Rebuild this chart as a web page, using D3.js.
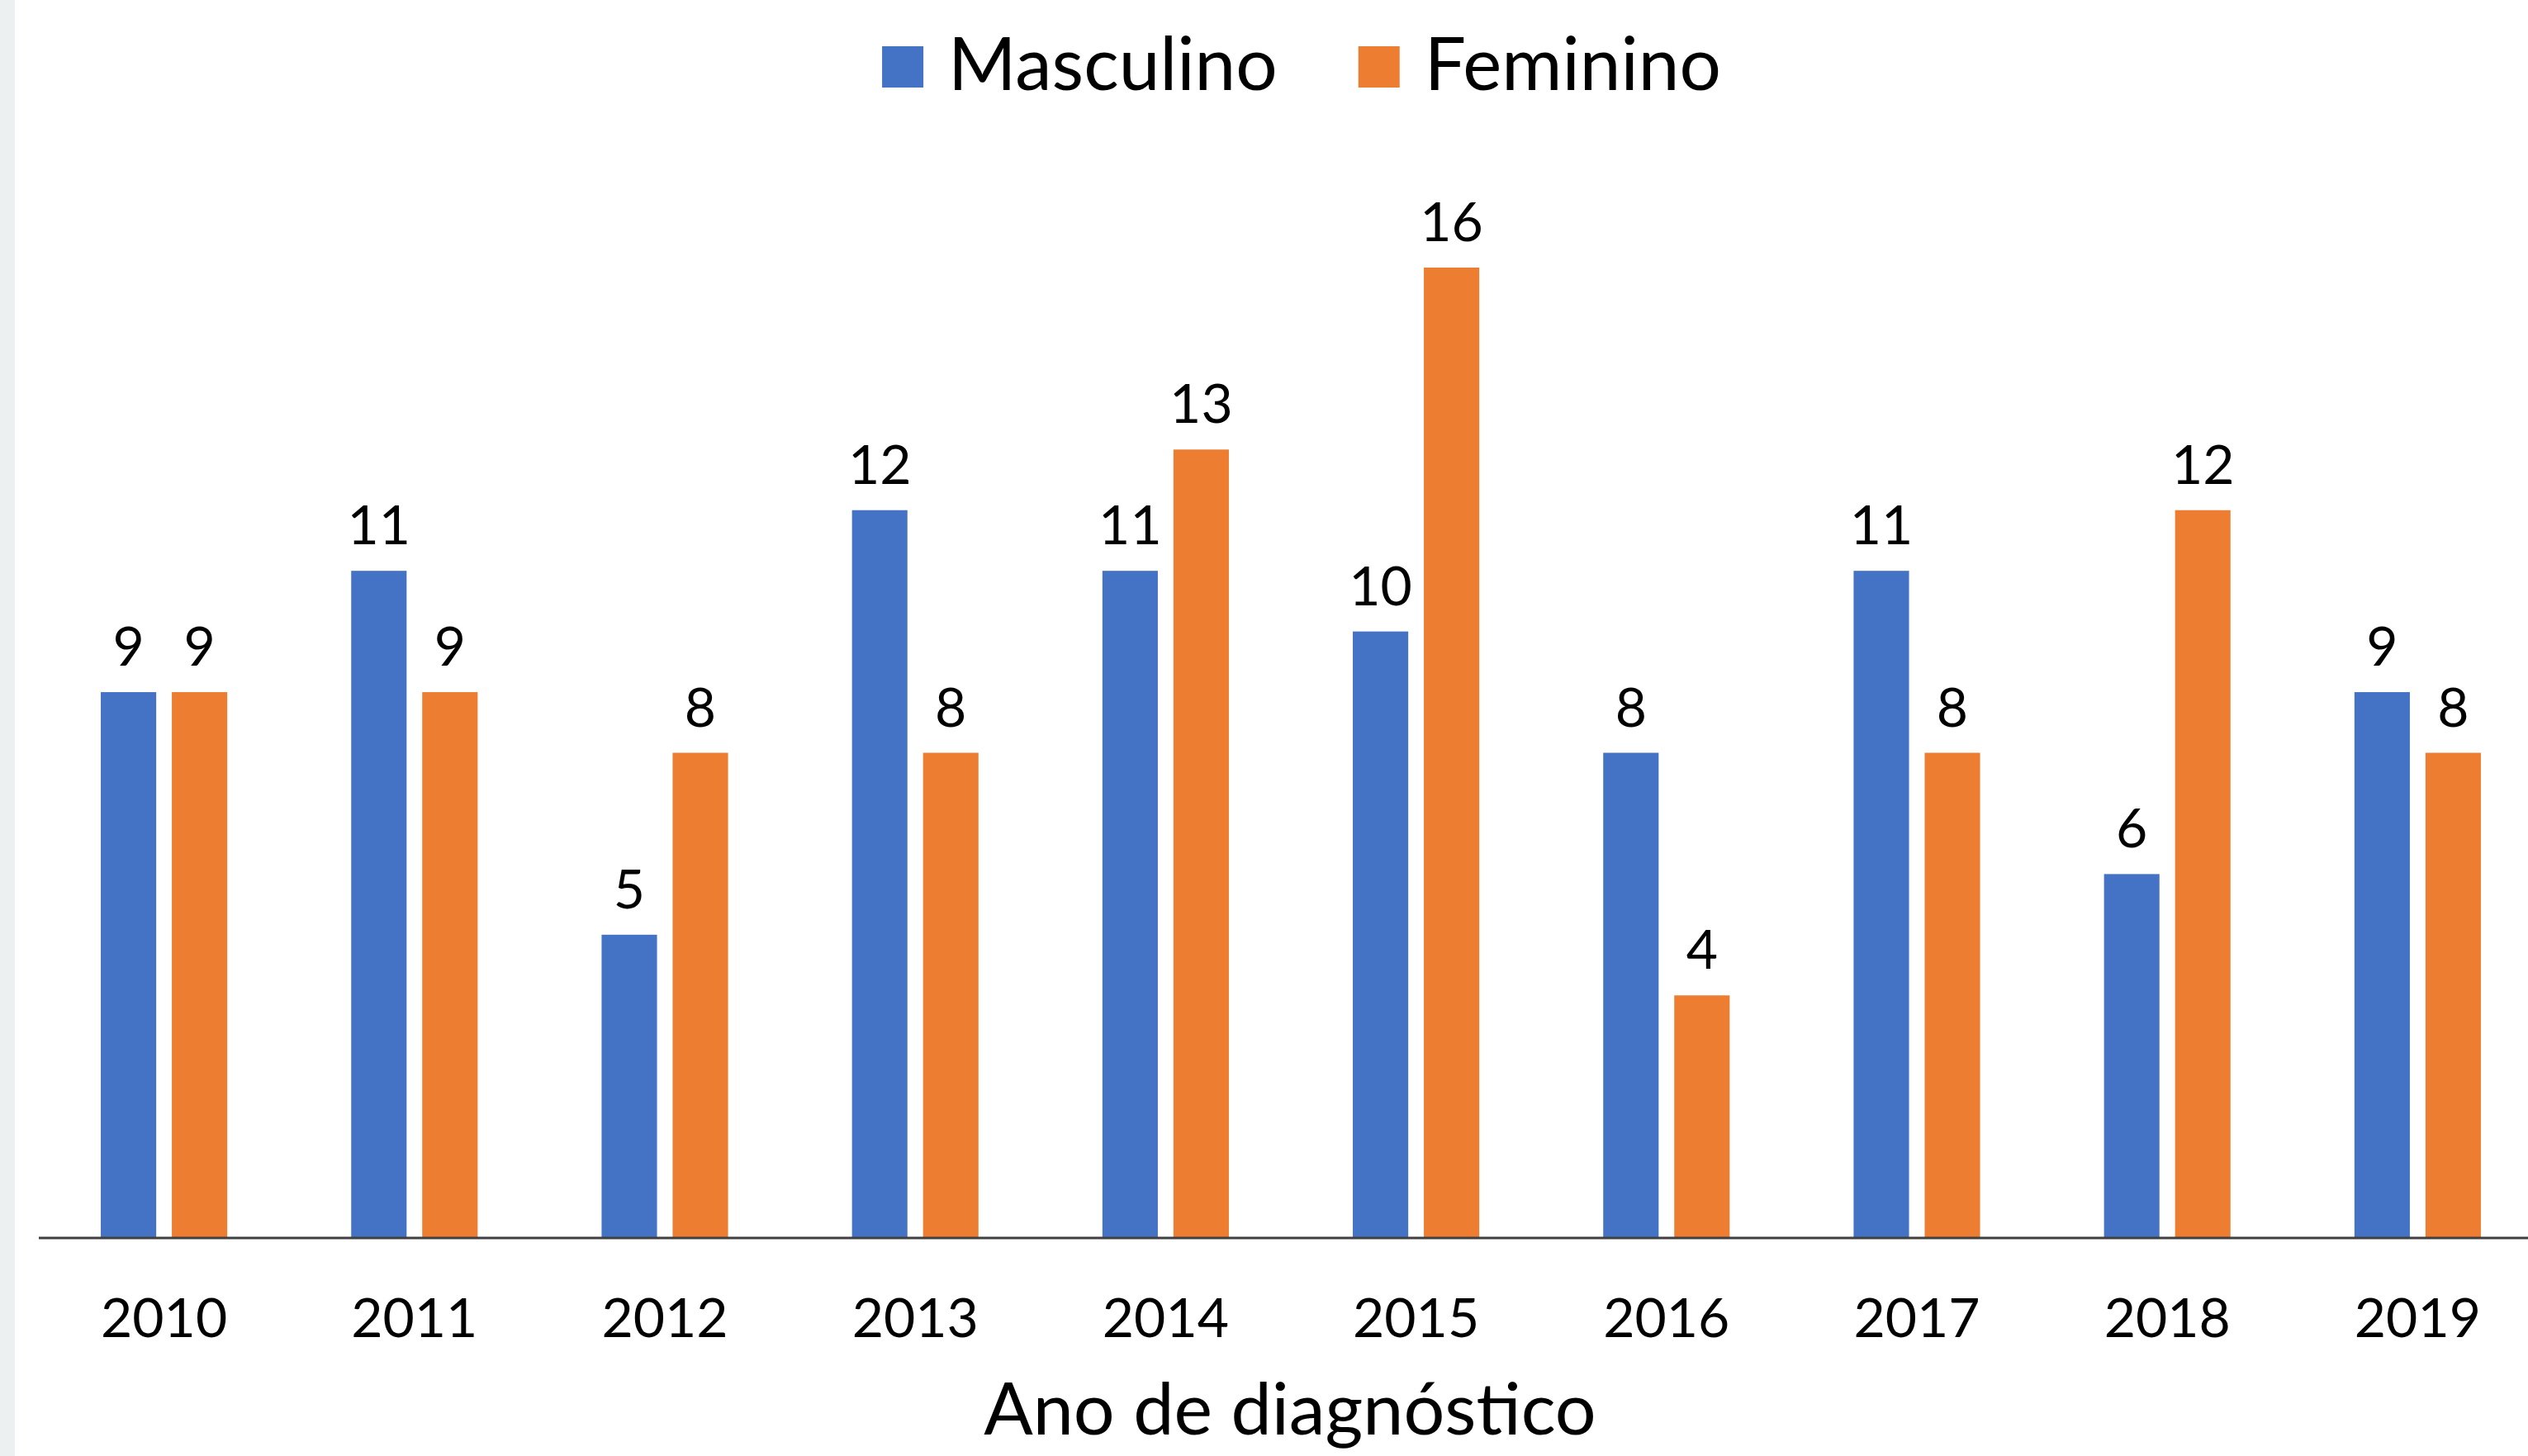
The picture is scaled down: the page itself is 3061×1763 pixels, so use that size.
<!DOCTYPE html>
<html>
<head>
<meta charset="utf-8">
<script src="https://cdn.jsdelivr.net/npm/d3@7"></script>
<style>
  body { margin: 0; background: #fff; }
  svg { display: block; font-family: Lato, "Open Sans", sans-serif; }
</style>
</head>
<body>
<div id="chart"></div>
<script>
const years = ["2010", "2011", "2012", "2013", "2014", "2015", "2016", "2017", "2018", "2019"];
const seriesNames = ["Masculino", "Feminino"];
const masculino = [9, 11, 5, 12, 11, 10, 8, 11, 6, 9];
const feminino = [9, 9, 8, 8, 13, 16, 4, 8, 12, 8];
const colors = ["#4472C4", "#ED7D31"];
const axisTitle = "Ano de diagnóstico";

const width = 3061;
const height = 1763;

const rows = years.map((y, i) => ({ year: y, values: [masculino[i], feminino[i]] }));

const svg = d3.select("#chart").append("svg")
    .attr("width", width)
    .attr("height", height);

// faint strip on the left edge
svg.append("rect")
    .attr("x", 0).attr("y", 0)
    .attr("width", 18).attr("height", height)
    .attr("fill", "#ecf0f0");

const x = d3.scaleBand()
    .domain(years)
    .range([47, 3079])
    .paddingInner(0.495)
    .paddingOuter(0.2475);

const xSub = d3.scaleBand()
    .domain(seriesNames)
    .range([0, x.bandwidth()])
    .paddingInner(0.22);

const y = d3.scaleLinear()
    .domain([0, 16])
    .range([1499, 324]);

const groups = svg.selectAll("g.year")
    .data(rows)
    .enter()
    .append("g")
    .attr("class", "year")
    .attr("transform", d => "translate(" + x(d.year) + ",0)");

groups.selectAll("rect")
    .data(d => d.values.map((v, i) => ({ name: seriesNames[i], value: v, idx: i })))
    .enter()
    .append("rect")
    .attr("x", d => xSub(d.name))
    .attr("y", d => y(d.value))
    .attr("width", xSub.bandwidth())
    .attr("height", d => y(0) - y(d.value))
    .attr("fill", d => colors[d.idx]);

groups.selectAll("text")
    .data(d => d.values.map((v, i) => ({ name: seriesNames[i], value: v })))
    .enter()
    .append("text")
    .attr("x", d => xSub(d.name) + xSub.bandwidth() / 2)
    .attr("y", d => y(d.value) - 32)
    .attr("text-anchor", "middle")
    .attr("font-size", 66)
    .attr("fill", "#000")
    .text(d => d.value);

// x axis
const xAxis = svg.append("g")
    .attr("transform", "translate(0," + y(0) + ")")
    .call(d3.axisBottom(x).tickSize(0).tickPadding(0));
xAxis.select(".domain")
    .attr("d", "M47,0H3079")
    .attr("stroke", "#404040")
    .attr("stroke-width", 3);
xAxis.selectAll(".tick text")
    .attr("dy", null)
    .attr("y", 120)
    .attr("font-size", 66)
    .attr("font-family", "Lato, 'Open Sans', sans-serif")
    .attr("fill", "#000");

svg.append("text")
    .attr("x", 1562)
    .attr("y", 1737)
    .attr("text-anchor", "middle")
    .attr("font-size", 88)
    .attr("fill", "#000")
    .text(axisTitle);

// legend
const legend = svg.append("g");
let cursor = 0;
seriesNames.forEach((name, i) => {
    const item = legend.append("g").attr("transform", "translate(" + cursor + ",0)");
    item.append("rect")
        .attr("x", 0).attr("y", 56)
        .attr("width", 50).attr("height", 50)
        .attr("fill", colors[i]);
    const t = item.append("text")
        .attr("x", 80)
        .attr("y", 109)
        .attr("font-size", 89)
        .attr("fill", "#000")
        .text(name);
    cursor += 80 + t.node().getComputedTextLength() + 98;
});
const legendWidth = cursor - 98;
legend.attr("transform", "translate(" + (1576 - legendWidth / 2) + ",0)");
</script>
</body>
</html>
